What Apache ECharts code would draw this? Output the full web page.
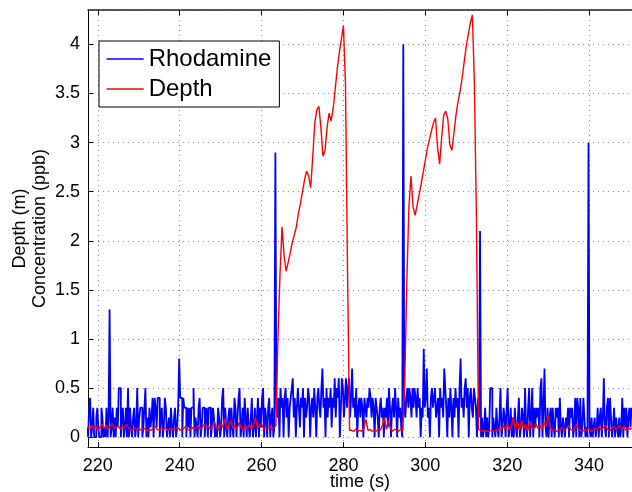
<!DOCTYPE html>
<html>
<head>
<meta charset="utf-8">
<title>Rhodamine and depth</title>
<script src="https://cdn.jsdelivr.net/npm/echarts@6/dist/echarts.min.js"></script>
<style>
  html, body { margin: 0; padding: 0; background: #fff; }
  #chart { width: 632px; height: 492px; }
</style>
</head>
<body>
<div id="chart"></div>
<script>
// time axis (s) and sampling of the two records
const timeRange = [217.6, 350.5]
const depthRange = [-0.1, 4.35]
const t0 = 217.5
const rhoStep = 0.25
const depthStep = 0.5

// rhodamine concentration, in tenths of a ppb, one sample every 0.25 s from t0
const rhodamineTenths = [
  1,0,3,4,0,1,3,0,0,2,3,1,0,0,3,2,0,1,0,3,
  0,2,13,0,1,3,0,2,0,3,1,5,5,0,2,3,0,1,3,0,
  5,0,3,1,0,2,3,0,1,5,0,2,3,3,0,1,3,5,0,2,
  0,3,1,2,4,0,4,3,1,4,4,0,2,3,0,1,4,3,0,1,
  2,0,3,1,0,2,3,0,1,3,8,4,4,0,4,3,3,0,3,1,
  3,0,3,3,5,0,2,1,0,3,4,0,1,3,3,0,2,3,0,3,
  3,0,1,3,2,0,1,0,3,2,0,1,4,5,0,3,1,0,2,3,
  0,3,1,0,4,3,0,2,4,5,0,1,3,0,4,2,0,3,1,0,
  2,4,0,1,3,0,2,4,0,3,1,4,5,0,3,2,0,3,4,0,
  2,3,0,1,29,3,2,4,0,5,3,4,0,4,5,2,4,0,3,4,
  5,6,2,4,0,3,5,3,1,4,3,5,0,4,2,3,5,4,0,3,
  4,2,5,3,0,4,5,3,2,5,7,3,4,0,5,2,4,3,5,1,
  4,3,6,2,5,4,6,0,3,6,5,2,4,6,3,5,6,2,4,7,
  3,4,2,5,0,3,4,2,4,3,0,4,3,2,4,3,5,4,2,4,
  3,0,4,3,2,0,3,4,2,3,0,3,2,4,1,5,3,0,3,4,
  2,5,3,0,4,2,3,1,0,40,3,2,4,5,3,5,4,2,5,3,
  5,4,2,5,3,4,0,3,2,9,3,4,7,2,3,0,4,5,3,4,
  5,2,3,4,0,5,3,4,2,7,5,3,0,4,2,5,3,0,4,2,
  5,3,4,0,5,8,3,4,2,5,6,3,5,0,4,5,3,2,5,4,
  3,0,4,2,21,0,2,0,1,3,0,2,0,1,5,5,0,2,1,0,
  3,1,0,2,5,0,1,3,2,0,3,5,0,1,3,0,2,0,3,1,
  0,2,4,0,1,3,2,0,5,1,0,3,5,0,2,5,0,3,1,3,
  2,3,0,5,6,0,3,7,1,0,3,0,2,3,0,3,1,0,3,2,
  3,0,4,1,0,2,1,0,2,1,3,0,3,2,3,0,1,4,0,4,
  3,0,4,0,1,4,2,0,1,0,30,1,0,2,0,1,2,0,1,3,
  0,2,3,0,2,6,1,0,3,4,0,4,2,0,1,3,0,2,1,0,
  2,0,1,4,0,3,1,3,0,2,3,1,3
]

// depth (m), one sample every 0.5 s from t0
const depth = [
  0.10,0.08,0.12,0.09,0.11,0.07,0.10,0.13,0.09,0.12,0.08,0.11,0.14,0.09,0.10,0.12,0.08,0.11,0.09,0.13,
  0.10,0.08,0.07,0.09,0.08,0.10,0.07,0.08,0.09,0.06,0.08,0.07,0.09,0.11,0.08,0.07,0.09,0.08,0.10,0.07,
  0.08,0.09,0.07,0.08,0.10,0.08,0.07,0.09,0.11,0.08,0.07,0.10,0.08,0.09,0.12,0.08,0.10,0.13,0.09,0.11,
  0.08,0.12,0.16,0.09,0.07,0.14,0.10,0.19,0.08,0.13,0.17,0.09,0.12,0.08,0.15,0.10,0.07,0.11,0.09,0.13,
  0.08,0.12,0.20,0.09,0.11,0.14,0.08,0.10,0.09,0.11,0.08,0.10,0.12,1.00,1.65,2.14,1.85,1.69,1.78,1.88,
  1.98,2.06,2.14,2.28,2.38,2.50,2.62,2.71,2.66,2.54,2.85,3.20,3.33,3.37,3.15,2.86,2.92,3.15,3.30,3.22,
  3.35,3.55,3.75,3.92,4.05,4.19,3.60,1.70,0.07,0.07,0.06,0.08,0.06,0.07,0.06,0.09,0.18,0.07,0.08,0.06,
  0.07,0.06,0.08,0.07,0.12,0.20,0.08,0.17,0.09,0.06,0.08,0.07,0.06,0.08,0.07,0.60,1.60,2.35,2.66,2.35,
  2.26,2.36,2.47,2.58,2.70,2.82,2.94,3.03,3.12,3.20,3.25,2.95,2.78,3.05,3.28,3.32,3.24,2.98,2.92,3.10,
  3.28,3.42,3.52,3.66,3.82,3.98,4.10,4.22,4.30,3.60,2.20,0.08,0.07,0.06,0.07,0.06,0.06,0.07,0.06,0.07,
  0.06,0.09,0.07,0.12,0.08,0.14,0.07,0.11,0.20,0.08,0.15,0.07,0.17,0.09,0.13,0.06,0.16,0.10,0.08,0.14,
  0.09,0.12,0.08,0.15,0.11,0.23,0.10,0.07,0.08,0.06,0.07,0.08,0.10,0.07,0.09,0.12,0.08,0.07,0.09,0.13,
  0.08,0.07,0.06,0.08,0.07,0.09,0.06,0.07,0.09,0.08,0.11,0.07,0.10,0.12,0.08,0.06,0.09,0.11,0.08,0.10,
  0.12,0.08,0.11,0.07,0.10,0.08,0.09
]

const font = "'Liberation Sans', Arial, Helvetica, sans-serif"
const dotted = { color: '#8a8a8a', width: 1, type: [1, 4] }

const rhoData = rhodamineTenths.map((v, i) => [t0 + i * rhoStep, v / 10])
const depthData = depth.map((v, i) => [t0 + i * depthStep, v])

const chart = echarts.init(document.getElementById('chart'))

chart.setOption({
  animation: false,
  textStyle: { fontFamily: font },
  grid: { left: 88, right: 0, top: 10, bottom: 45, outerBoundsMode: 'none' },
  legend: {
    orient: 'vertical',
    left: 99,
    top: 41,
    itemWidth: 37,
    itemHeight: 24,
    itemGap: 6,
    padding: [6, 8, 6, 7],
    borderColor: '#000',
    borderWidth: 1,
    borderRadius: 0,
    backgroundColor: '#fff',
    // line-only keys, no marker
    itemStyle: { opacity: 0, borderWidth: 0 },
    lineStyle: { width: 1.3 },
    textStyle: { fontSize: 24, color: '#000', fontFamily: font },
    data: ['Rhodamine', 'Depth']
  },
  xAxis: [
    {
      type: 'value',
      min: timeRange[0],
      max: timeRange[1],
      splitNumber: 7,
      name: 'time (s)',
      nameLocation: 'middle',
      nameGap: 26,
      nameMoveOverlap: false,
      nameTextStyle: { fontSize: 18, color: '#000', fontFamily: font },
      axisLine: { onZero: false, lineStyle: { color: '#000', width: 1 } },
      axisTick: { inside: true, length: 5, lineStyle: { color: '#000' } },
      axisLabel: { fontSize: 18, color: '#000', margin: 10, showMinLabel: false, showMaxLabel: false },
      splitLine: { show: true, lineStyle: dotted }
    },
    {
      // top border of the box
      type: 'value',
      position: 'top',
      min: timeRange[0],
      max: timeRange[1],
      splitNumber: 7,
      axisLine: { onZero: false, lineStyle: { color: '#222', width: 1.5 } },
      axisTick: { inside: true, length: 5, lineStyle: { color: '#000' } },
      axisLabel: { show: false },
      splitLine: { show: false }
    }
  ],
  yAxis: {
    type: 'value',
    min: depthRange[0],
    max: depthRange[1],
    splitNumber: 9,
    name: 'Depth (m)\nConcentration (ppb)',
    nameLocation: 'middle',
    nameGap: 38,
    nameMoveOverlap: false,
    nameTextStyle: { fontSize: 18, lineHeight: 20, color: '#000', fontFamily: font },
    axisLine: { show: true, onZero: false, lineStyle: { color: '#000', width: 1 } },
    axisTick: { show: true, inside: true, length: 5, lineStyle: { color: '#000' } },
    axisLabel: { fontSize: 18, color: '#000', margin: 8, showMinLabel: false, showMaxLabel: false },
    splitLine: { show: true, lineStyle: dotted }
  },
  series: [
    {
      name: 'Rhodamine',
      type: 'line',
      data: rhoData,
      step: 'middle',
      symbol: 'none',
      z: 2,
      lineStyle: { color: '#0000ff', width: 1.8 },
      itemStyle: { color: '#0000ff' }
    },
    {
      name: 'Depth',
      type: 'line',
      data: depthData,
      symbol: 'none',
      z: 3,
      lineStyle: { color: '#ff0000', width: 1.4 },
      itemStyle: { color: '#ff0000' }
    }
  ]
})
</script>
</body>
</html>
